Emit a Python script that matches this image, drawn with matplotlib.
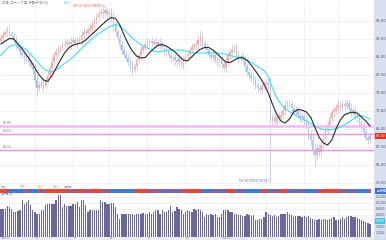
import matplotlib
matplotlib.use("Agg")
import matplotlib.pyplot as plt
import matplotlib.transforms as mtransforms
from matplotlib.patches import Rectangle

# ---------------- data ----------------
close = [90.2, 91.1, 91.9, 92.5, 91.6, 90.8, 89.7, 88.6, 87.5, 86.4,
         85.5, 84.7, 85.2, 83.6, 82.5, 81.4, 78.6, 76.4, 77.2, 77.7,
         76.9, 78.6, 80.0, 81.9, 83.6, 85.5, 86.4, 86.9, 87.5, 88.3,
         88.6, 89.1, 88.6, 89.1, 89.7, 88.9, 89.4, 89.7, 91.1, 91.9,
         91.6, 92.5, 93.0, 93.9, 95.2, 96.1, 96.9, 97.5, 97.2, 98.0,
         96.9, 97.2, 96.1, 93.9, 91.9, 90.2, 88.3, 86.9, 85.5, 84.7,
         83.6, 82.7, 81.4, 82.5, 84.1, 85.5, 86.9, 87.7, 88.6, 89.1,
         88.9, 89.4, 88.6, 89.1, 88.3, 88.9, 87.7, 86.4, 86.9, 85.5,
         84.7, 85.0, 84.1, 83.6, 84.7, 82.7, 84.1, 85.2, 85.8, 86.9,
         87.7, 88.3, 88.6, 89.7, 90.8, 88.9, 87.7, 86.9, 85.5, 85.0,
         85.5, 84.1, 83.6, 84.7, 83.0, 81.9, 83.6, 85.5, 86.4, 86.9,
         87.5, 85.8, 84.7, 85.2, 84.1, 82.5, 80.8, 80.0, 79.1, 78.6,
         77.2, 76.4, 75.8, 76.9, 77.5, 77.7, 77.2, 67.5, 68.0, 66.9,
         68.6, 68.0, 68.9, 70.2, 71.6, 72.2, 71.9, 70.8, 69.7, 70.2,
         68.9, 68.0, 68.6, 67.5, 66.1, 63.3, 61.9, 59.1, 57.7, 59.7,
         58.6, 60.5, 62.5, 64.7, 66.1, 68.0, 69.7, 70.2, 70.8, 71.6,
         71.1, 71.9, 71.3, 72.2, 70.8, 69.7, 70.2, 68.9, 68.0, 66.9,
         66.1, 64.1, 62.5, 61.9, 63.0]
open0 = 89.5
wick = [0.8, 1.2, 0.6, 1.0, 1.4, 0.7, 0.9, 1.3, 0.5, 1.1,
        0.9, 1.5, 0.8, 1.0, 0.6, 1.2, 1.8, 1.6, 1.0, 0.8,
        1.3, 0.7, 1.1, 0.9, 1.4, 0.6, 1.0, 1.2, 0.8, 0.7,
        1.1, 0.9, 0.6, 1.3, 1.0, 0.8, 1.2, 0.7, 1.0, 1.4,
        0.9, 0.6, 1.1, 1.3, 0.8, 1.0, 1.2, 0.9, 1.5, 1.1,
        0.8, 1.0, 1.3, 1.6, 1.2, 0.9, 1.4, 1.1, 0.8, 1.0,
        1.2, 1.5, 1.3, 0.9, 1.1, 0.8, 1.0, 0.7, 0.9, 1.2,
        0.8, 1.0, 0.6, 1.1, 0.9, 1.3, 0.7, 1.0, 1.2, 0.8,
        1.1, 0.9, 1.4, 1.0, 1.5, 0.8, 1.1, 0.7, 1.0, 0.9,
        1.2, 0.8, 1.0, 1.3, 1.6, 1.1, 0.9, 1.2, 0.8, 1.0,
        1.3, 0.9, 1.1, 1.4, 1.2, 0.8, 1.0, 0.9, 1.1, 1.3,
        0.9, 1.0, 1.2, 0.8, 1.1, 1.3, 0.9, 1.2, 1.0, 1.4,
        1.1, 0.9, 1.2, 1.0, 0.8, 1.1, 1.5, 2.0, 1.4, 1.1,
        1.0, 1.2, 0.9, 1.1, 1.3, 0.8, 1.0, 1.2, 0.9, 1.1,
        1.0, 1.3, 0.9, 1.2, 1.1, 1.5, 1.3, 1.6, 1.8, 1.4,
        1.2, 1.5, 1.1, 1.3, 1.0, 1.2, 0.9, 1.1, 1.0, 1.3,
        0.9, 1.2, 1.0, 0.8, 1.1, 1.3, 0.9, 1.2, 1.0, 1.4,
        1.1, 1.3, 1.0, 1.2, 0.9]
spike_idx = [17, 127, 148]
spike_low = [74.0, 50.3, 54.7]

volume = [8.5, 8.5, 8.5, 9.2, 9.0, 8.5, 7.5, 7.6, 7.8, 8.0,
          11.0, 10.0, 10.5, 11.2, 9.5, 8.0, 7.5, 7.0, 7.0, 8.0,
          8.0, 9.5, 9.8, 9.8, 9.8, 9.8, 11.0, 12.5, 12.5, 9.0,
          9.8, 9.2, 9.2, 9.2, 10.0, 10.0, 10.5, 9.0, 11.0, 11.0,
          9.5, 7.5, 8.0, 8.0, 8.0, 8.2, 8.0, 11.0, 10.5, 10.5,
          10.0, 9.8, 10.2, 10.2, 9.0, 7.0, 5.5, 7.0, 7.0, 7.0,
          7.0, 6.8, 6.8, 6.5, 6.8, 7.0, 7.0, 7.2, 6.9, 7.0,
          7.5, 7.0, 7.5, 8.0, 8.0, 7.0, 8.0, 7.5, 7.5, 8.0,
          9.2, 7.5, 7.8, 9.0, 8.5, 8.0, 7.0, 7.5, 8.0, 7.8,
          7.5, 8.5, 8.2, 8.5, 8.2, 7.5, 6.0, 7.0, 6.5, 7.0,
          6.5, 6.8, 6.0, 6.0, 6.8, 8.0, 8.0, 8.0, 7.5, 7.5,
          7.0, 7.0, 6.5, 6.5, 6.2, 6.2, 7.0, 6.5, 6.2, 6.5,
          5.0, 5.2, 5.5, 5.5, 6.0, 7.5, 7.0, 6.5, 6.2, 6.5,
          6.0, 6.2, 6.8, 6.8, 6.8, 7.5, 7.0, 6.5, 6.0, 6.2,
          6.2, 6.2, 6.0, 6.2, 6.0, 6.2, 5.8, 5.5, 5.0, 5.2,
          5.5, 5.0, 5.5, 5.5, 5.2, 5.5, 5.8, 6.0, 5.2, 5.0,
          5.5, 6.0, 5.5, 6.0, 6.2, 6.2, 6.0, 6.0, 5.8, 5.5,
          5.0, 4.8, 4.5, 4.2, 4.0]

# moving averages, read at every 2nd bar
ma_step = 2
ma_short = [88.6, 89.4, 90.1, 90.0, 88.6, 87.2, 85.5, 83.9, 81.9, 80.0,
            78.6, 78.2, 79.7, 81.9, 84.1, 86.1, 87.5, 88.3, 88.6, 88.9,
            89.7, 90.8, 91.9, 93.0, 94.1, 95.2, 95.9, 95.7, 93.9, 91.1,
            88.6, 86.6, 85.2, 84.7, 84.8, 86.1, 87.3, 88.2, 88.4, 88.0,
            87.2, 86.4, 85.2, 84.1, 83.9, 85.0, 86.2, 87.1, 87.6, 87.6,
            86.9, 85.8, 84.7, 83.6, 83.4, 84.1, 84.7, 84.8, 84.1, 82.7,
            81.1, 79.4, 77.5, 75.0, 71.9, 69.1, 67.2, 66.6, 67.7, 69.7,
            70.4, 70.2, 69.7, 68.3, 65.5, 62.7, 61.1, 60.5, 61.9, 65.0,
            67.5, 68.9, 69.4, 69.6, 69.4, 68.3, 67.2, 65.8]
ma_long = [85.4, 86.8, 87.9, 88.3, 88.2, 87.7, 86.9, 85.8, 84.4, 83.0,
           81.8, 81.1, 80.8, 81.4, 82.3, 83.2, 84.0, 85.0, 86.1, 87.3,
           88.6, 89.5, 90.5, 91.4, 92.2, 93.0, 93.6, 94.0, 93.6, 92.6,
           91.4, 90.2, 89.3, 88.4, 87.7, 87.2, 86.6, 86.4, 86.5, 86.8,
           86.9, 86.9, 86.9, 86.8, 86.5, 86.2, 86.1, 86.1, 86.1, 86.1,
           86.1, 86.1, 86.0, 85.7, 85.4, 85.1, 84.8, 84.6, 84.1, 83.6,
           82.7, 82.0, 81.2, 79.7, 76.4, 73.6, 71.9, 70.7, 69.8, 69.1,
           68.3, 67.7, 67.2, 66.5, 65.8, 65.2, 64.8, 64.7, 64.8, 65.1,
           65.4, 66.1, 66.8, 67.7, 68.6, 68.7, 68.3, 67.7]

hlines = [65.8, 63.6, 59.1]
price_ticks = [95, 90, 85, 80, 75, 70, 65, 60, 55, 50]
vol_ticks = [1.2, 3.0, 6.6, 8.4, 10.2, 12.0]
month_idx = [16, 34, 51, 69, 87, 104, 125, 143, 159]
month_labels = ["8", "9", "10", "11", "12", "2024/1", "2", "3", "4"]
first_label = "2023/7"

# ---------------- figure ----------------
W, H = 386, 240
fig = plt.figure(figsize=(W / 100, H / 100), dpi=100)
fig.patch.set_facecolor("white")
JP = ["Noto Sans CJK JP", "DejaVu Sans"]


def box(x0, y0, x1, y1):
    return [x0 / W, 1 - y1 / H, (x1 - x0) / W, (y1 - y0) / H]


n = len(close)
xs = list(range(n))
xlim = (-0.47, 175.9)
grid_c = "#ececec"

# right panel background and bottom band
fig.add_artist(Rectangle((374 / W, 0), 12 / W, 1, transform=fig.transFigure,
                         facecolor="#d6e0ee", edgecolor="none", zorder=-5))
fig.add_artist(Rectangle((0, 0), 374 / W, 3 / H, transform=fig.transFigure,
                         facecolor="#e9edf3", edgecolor="none", zorder=-5))

# ---- price panel ----
ax = fig.add_axes(box(0, 2, 374, 186))
ax.set_xlim(*xlim)
ax.set_ylim(100.8 - 186 / 3.6, 100.8 - 2 / 3.6)
for s in ax.spines.values():
    s.set_visible(False)
ax.set_facecolor("none")
ax.set_yticks(price_ticks)
ax.set_yticklabels([f"{v:.2f}" for v in price_ticks])
ax.yaxis.tick_right()
ax.tick_params(axis="y", length=0, pad=1.2, labelsize=2.6, labelcolor="#556")
ax.set_xticks(month_idx)
ax.tick_params(axis="x", length=0, labelbottom=False)
ax.grid(True, color=grid_c, lw=0.5, zorder=0)

opens = [open0] + close[:-1]
highs = [max(o, c) + w for o, c, w in zip(opens, close, wick)]
lows = [min(o, c) - w for o, c, w in zip(opens, close, wick)]
for k, v in zip(spike_idx, spike_low):
    lows[k] = v

up_c, dn_c = "#f5aeae", "#aac5f2"
cols = [up_c if c >= o else dn_c for o, c in zip(opens, close)]
ax.vlines(xs, lows, highs, colors=cols, lw=0.5, zorder=2)
ax.bar(xs, [max(abs(c - o), 0.25) for o, c in zip(opens, close)],
       bottom=[min(o, c) for o, c in zip(opens, close)],
       width=0.7, color=cols, zorder=2, linewidth=0)

for v, c, lw in zip(hlines, ["#f9b8f4", "#f08ef0", "#f08ef0"], [1.8, 1.0, 1.0]):
    ax.axhline(v, color=c, lw=lw, zorder=3)
    ax.text(0.6, v + 0.35, f"{v:.2f}", fontsize=2.2, color="#777", va="bottom",
            ha="left", zorder=4)

ma_x = list(range(0, n, ma_step))
ax.plot(ma_x, ma_long, color="#39e3f2", lw=0.8, zorder=4,
        solid_joinstyle="round")
ax.plot(ma_x, ma_short, color="#2a2a2a", lw=0.8, zorder=5,
        solid_joinstyle="round")

# high / low annotations
hi_i = max(range(n), key=lambda i: highs[i])
lo_i = min(range(n), key=lambda i: lows[i])
ax.text(hi_i - 1, 99.2, f"{highs[hi_i]:.2f} (2023/08/10)", fontsize=2.2,
        color="#e05050", ha="right", va="center")
ax.plot([hi_i - 0.8, hi_i], [99.2, highs[hi_i]], color="#e05050", lw=0.4)
ax.text(lo_i - 1, 50.5, f"{lows[lo_i]:.2f} (2024/01/05)", fontsize=2.2,
        color="#5a5ad0", ha="right", va="center")

# current price label
tr = mtransforms.blended_transform_factory(fig.transFigure, ax.transData)
ax.text(375.5 / W, close[-1], f"{close[-1]:.2f}", transform=tr, fontsize=2.4,
        color="white", va="center", ha="left",
        bbox=dict(boxstyle="square,pad=0.25", fc="#e32b20", ec="none"), zorder=6)

# ---- up/down strip ----
axs = fig.add_axes(box(0, 188.5, 374, 193))
axs.set_xlim(*xlim)
axs.set_ylim(0, 1)
axs.axis("off")
strip_cols = ["#e8453c" if c >= o else "#3f79d9" for o, c in zip(opens, close)]
axs.bar(xs, [1] * n, width=1.0, color=strip_cols, linewidth=0)

# ---- volume panel ----
axv = fig.add_axes(box(0, 194, 374, 237))
axv.set_xlim(*xlim)
axv.set_ylim(0, 12.9)
axv.set_facecolor("none")
for s in axv.spines.values():
    s.set_visible(False)
axv.bar(xs, volume, width=0.62, color="#68689e", linewidth=0, zorder=2)
axv.set_yticks(vol_ticks)
axv.set_yticklabels([f"{v * 1000:,.0f}" for v in vol_ticks])
axv.yaxis.tick_right()
axv.tick_params(axis="y", length=0, pad=1.2, labelsize=2.3, labelcolor="#556")
axv.set_xticks(month_idx)
axv.tick_params(axis="x", length=0, labelbottom=False)
axv.grid(True, color=grid_c, lw=0.5, zorder=0)
trv = mtransforms.blended_transform_factory(fig.transFigure, axv.transData)
axv.text(375.5 / W, 4.8, f"{volume[-1] * 1000:,.0f}", transform=trv, fontsize=2.2,
         color="white", va="center", ha="left",
         bbox=dict(boxstyle="square,pad=0.25", fc="#35c8ec", ec="none"), zorder=6)

# date labels in the bottom band
trd = mtransforms.blended_transform_factory(axv.transData, fig.transFigure)
for i, lab in zip(month_idx, month_labels):
    axv.text(i + 0.3, 1 - 238.2 / H, lab, transform=trd, fontsize=2.0,
             color="#777", va="center", ha="left", clip_on=False)
fig.text(1 / W, 1 - 238.2 / H, first_label, fontsize=2.0, color="#777",
         va="center")

# ---- header / legend texts ----
fig.text(2 / W, 1 - 3.5 / H, "日足  ローソク足  移動平均(10)", fontsize=2.4,
         color="#888", va="center", family=JP)
fig.text(64 / W, 1 - 3.5 / H, "(25)", fontsize=2.4, color="#30d0e8", va="center")
fig.text(375.5 / W, 1 - 191 / H, " 出来高 ", fontsize=2.2, color="white",
         va="center", family=JP,
         bbox=dict(boxstyle="square,pad=0.2", fc="#3a6fd2", ec="none"))
leg = [("陽線", "#999", 1), ("陰線", "#f08cd8", 20), ("MA10", "#e8b040", 37),
       ("MA25", "#70c070", 53), ("出来高", "#9a80d0", 64)]
for t, c, x in leg:
    fig.text(x / W, 1 - 186.5 / H, t, fontsize=2.0, color=c, va="center",
             family=JP)
fig.text(1 / W, 1 - 194.5 / H, "出来高(株)", fontsize=2.0, color="#7a8fd0",
         va="center", family=JP)

fig.savefig("out.png", dpi=100)
